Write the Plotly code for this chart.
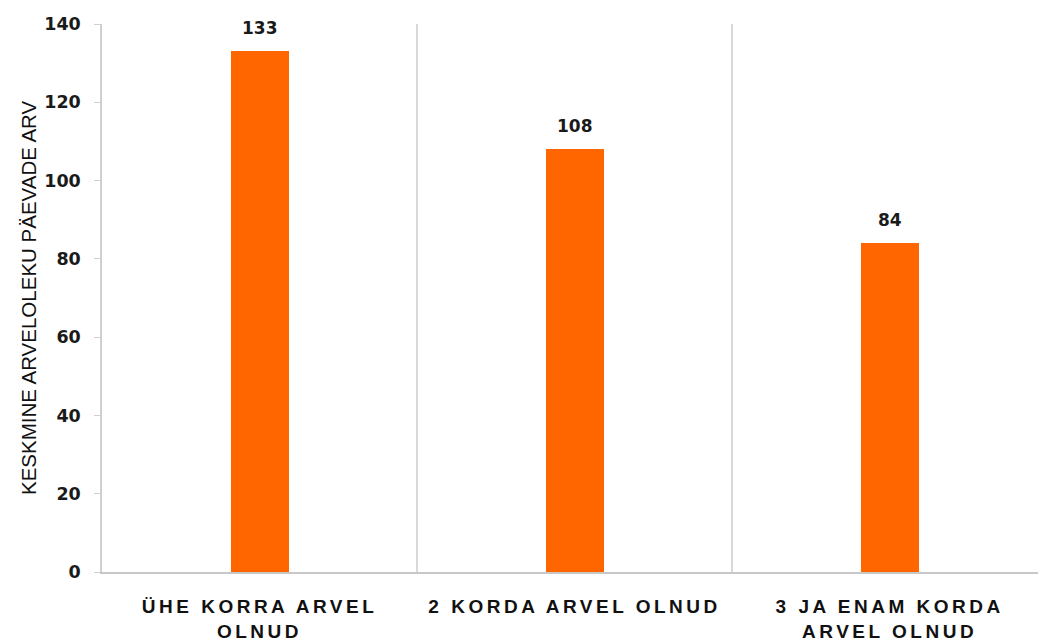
import plotly.graph_objects as go

categories = ["ÜHE KORRA ARVEL<br>OLNUD", "2 KORDA ARVEL OLNUD", "3 JA ENAM KORDA<br>ARVEL OLNUD"]
values = [133, 108, 84]
value_labels = ["133", "108", "84"]
y_ticks = [0, 20, 40, 60, 80, 100, 120, 140]
y_title = "KESKMINE ARVELOLEKU PÄEVADE ARV"

fig = go.Figure()
fig.add_trace(go.Bar(
    x=categories, y=values, width=0.184,
    marker=dict(color="#FF6600", line=dict(width=0)),
    hoverinfo="skip",
))

for c, v, t in zip(categories, values, value_labels):
    fig.add_annotation(x=c, y=v, text=t, showarrow=False, yanchor="bottom",
                       yshift=11, font=dict(family="DejaVu Sans", size=17, color="#1a1a1a", weight="bold"))

fig.add_annotation(xref="paper", yref="paper", x=0, y=0.5, xshift=-74, text=y_title,
                   textangle=-90, showarrow=False, xanchor="center", yanchor="middle",
                   font=dict(family="Liberation Sans", size=20.5, color="#111111"))

fig.update_layout(
    width=1038, height=640,
    margin=dict(l=102, r=0, t=24, b=68),
    plot_bgcolor="white", paper_bgcolor="white",
    showlegend=False,
    bargap=0,
    xaxis=dict(
        type="category", range=[-0.5, 2.471], automargin=False,
        tickson="boundaries", showgrid=True, gridcolor="#d9d9d9", gridwidth=1.5,
        showline=True, linecolor="#c8c8c8", linewidth=2,
        ticks="", ticklabelstandoff=16,
        tickfont=dict(family="Liberation Sans", size=19, color="#111111", weight="bold"),
        zeroline=False,
    ),
    yaxis=dict(
        range=[0, 140], tickvals=y_ticks, showgrid=False, zeroline=False, automargin=False,
        showline=True, linecolor="#d0d0d0", linewidth=1.5,
        ticks="outside", ticklen=6, tickcolor="#d0d0d0", ticklabelstandoff=10,
        tickfont=dict(family="DejaVu Sans", size=17.5, color="#1a1a1a", weight="bold"),
    ),
)

post = """
var s=document.createElement('style');
s.innerHTML='body{margin:0;padding:0;overflow:hidden} .xtick text{letter-spacing:3.5px}';
document.head.appendChild(s);
"""
fig.write_html("out.html", post_script=post, config={"displayModeBar": False})
